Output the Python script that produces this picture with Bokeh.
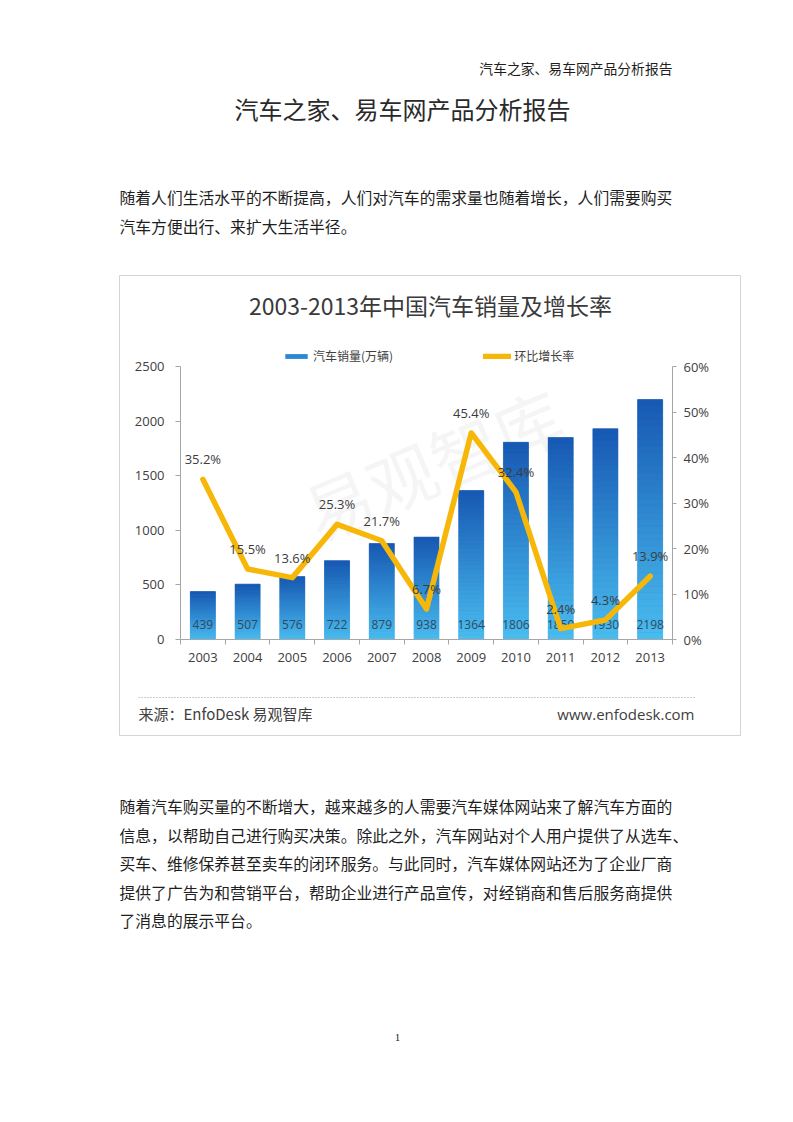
import numpy as np
from bokeh.plotting import figure
from bokeh.models import (Range1d, LinearAxis, FixedTicker, Label, Legend, LegendItem,
                          ColumnDataSource, Spacer, Arrow)
from bokeh.layouts import column, row
from bokeh.core.properties import value
from bokeh.embed import file_html
from bokeh.resources import INLINE

# ---------------- data ----------------
years = ["2003", "2004", "2005", "2006", "2007", "2008", "2009", "2010", "2011", "2012", "2013"]
sales = [439, 507, 576, 722, 879, 938, 1364, 1806, 1850, 1930, 2198]
growth = [35.2, 15.5, 13.6, 25.3, 21.7, 6.7, 45.4, 32.4, 2.4, 4.3, 13.9]
sales_ticks = [0, 500, 1000, 1500, 2000, 2500]
growth_ticks = [0, 10, 20, 30, 40, 50, 60]
growth_tick_labels = ["0%", "10%", "20%", "30%", "40%", "50%", "60%"]
legend_labels = ["汽车销量(万辆)", "环比增长率"]
chart_title = "2003-2013年中国汽车销量及增长率"
source_left = "来源：EnfoDesk 易观智库"
source_right = "www.enfodesk.com"
watermark = "易观智库"
header_text = "汽车之家、易车网产品分析报告"
doc_title = "汽车之家、易车网产品分析报告"
para1 = ["随着人们生活水平的不断提高，人们对汽车的需求量也随着增长，人们需要购买",
         "汽车方便出行、来扩大生活半径。"]
para2 = ["随着汽车购买量的不断增大，越来越多的人需要汽车媒体网站来了解汽车方面的",
         "信息，以帮助自己进行购买决策。除此之外，汽车网站对个人用户提供了从选车、",
         "买车、维修保养甚至卖车的闭环服务。与此同时，汽车媒体网站还为了企业厂商",
         "提供了广告为和营销平台，帮助企业进行产品宣传，对经销商和售后服务商提供",
         "了消息的展示平台。"]
page_number = "1"

CJK = "Noto Sans CJK SC"
NUM = "Open Sans"
TXT = "#1e1e1e"
PAGE_W = 785


def page_fig(h, y_top):
    return figure(width=PAGE_W, height=h, x_range=Range1d(0, PAGE_W),
                  y_range=Range1d(y_top + h, y_top),
                  output_backend="svg", toolbar_location=None, min_border=0,
                  x_axis_type=None, y_axis_type=None, outline_line_color=None,
                  background_fill_color="white", border_fill_color="white")


# ---------------- top of page ----------------
BOX_L, BOX_T, BOX_W, BOX_H = 119, 275, 622, 461
top = page_fig(BOX_T, 0)
top.text(x=[672], y=[67], text=[header_text], text_align="right", text_baseline="middle",
         text_font=value(CJK), text_font_size="13.8px", text_color=TXT)
top.text(x=[402], y=[108], text=[doc_title], text_align="center", text_baseline="middle",
         text_font=value(CJK), text_font_size="24px", text_color="#2a2a2a")
top.text(x=[119] * len(para1), y=[197 + 29 * i for i in range(len(para1))], text=para1,
         text_align="left", text_baseline="middle", text_font=value(CJK),
         text_font_size="15.8px", text_color=TXT)

# ---------------- chart ----------------
# the plot frame covers the whole chart box; the axes sit at fixed locations inside it
PLOT_L, PLOT_R, PLOT_T, PLOT_B = 180, 672, 366, 639
n = len(years)
ux = n / (PLOT_R - PLOT_L)
uy = sales_ticks[-1] / (PLOT_B - PLOT_T)
up = growth_ticks[-1] / (PLOT_B - PLOT_T)
x_lo = -0.5 - (PLOT_L - BOX_L) * ux
x_hi = n - 0.5 + (BOX_L + BOX_W - PLOT_R) * ux
y_lo = -(BOX_T + BOX_H - PLOT_B) * uy
y_hi = sales_ticks[-1] + (PLOT_T - BOX_T) * uy
p_lo = -(BOX_T + BOX_H - PLOT_B) * up
p_hi = growth_ticks[-1] + (PLOT_T - BOX_T) * up


def sx(px):
    return px - BOX_L


def sy(py):
    return BOX_T + BOX_H - py


p = figure(width=BOX_W, height=BOX_H, x_range=Range1d(x_lo, x_hi), y_range=Range1d(y_lo, y_hi),
           output_backend="svg", toolbar_location=None, min_border=0,
           outline_line_color="#d4d4d4", background_fill_color="white", border_fill_color="white")
p.extra_y_ranges = {"pct": Range1d(p_lo, p_hi)}
p.grid.visible = False

AX = "#a6a6a6"
yax = p.yaxis[0]
yax.fixed_location = -0.5
yax.bounds = (sales_ticks[0], sales_ticks[-1])
yax.ticker = FixedTicker(ticks=sales_ticks)
yax.axis_line_color = AX
yax.major_tick_line_color = AX
yax.major_tick_out = 5
yax.major_tick_in = 0
yax.minor_tick_line_color = None
yax.major_label_standoff = 11
yax.major_label_text_font = NUM
yax.major_label_text_font_size = "13px"
yax.major_label_text_color = "#404040"

xax = p.xaxis[0]
xs_idx = list(range(n))
xax.fixed_location = 0
xax.bounds = (-0.5, n - 0.5)
xax.ticker = FixedTicker(ticks=xs_idx, minor_ticks=[i - 0.5 for i in range(n + 1)])
xax.major_label_overrides = {i: years[i] for i in xs_idx}
xax.axis_line_color = AX
xax.major_tick_line_color = None
xax.major_tick_out = 0
xax.major_tick_in = 0
xax.minor_tick_line_color = AX
xax.minor_tick_out = 5
xax.minor_tick_in = 0
xax.major_label_standoff = 8
xax.major_label_text_font = NUM
xax.major_label_text_font_size = "13px"
xax.major_label_text_color = "#404040"

rax = LinearAxis(y_range_name="pct", fixed_location=n - 0.5, bounds=(growth_ticks[0], growth_ticks[-1]),
                 ticker=FixedTicker(ticks=growth_ticks),
                 major_label_overrides=dict(zip(growth_ticks, growth_tick_labels)),
                 axis_line_color=AX, major_tick_line_color=AX, major_tick_out=4, major_tick_in=0,
                 minor_tick_line_color=None, major_label_standoff=7,
                 major_label_text_font=NUM, major_label_text_font_size="13px",
                 major_label_text_color="#404040")
p.add_layout(rax, "right")

# watermark
p.add_layout(Label(x=sx(432), y=sy(462), x_units="screen", y_units="screen", text=watermark,
                   angle=0.4, text_align="center", text_baseline="middle", text_font=CJK,
                   text_font_size="68px", text_color="#9a9a9a", text_alpha=0.10, level="underlay"))

src = ColumnDataSource(dict(x=xs_idx, sales=sales, label=[str(v) for v in sales]))
bars = p.vbar(x="x", top="sales", bottom=0, width=0.56, source=src,
              fill_color="#2b86d3", line_color=None)

# vertical colour gradient inside each bar (light at the base, dark at the top)
N = 36
light = np.array([0x4a, 0xbd, 0xf0], dtype=float)
dark = np.array([0x17, 0x58, 0xb2], dtype=float)
gx, gb, gt, gc = [], [], [], []
for i, v in enumerate(sales):
    for k in range(N):
        c = light + (dark - light) * ((k + 0.5) / N)
        gx.append(i)
        gb.append(v * k / N)
        gt.append(v * (k + 1) / N)
        gc.append("#%02x%02x%02x" % tuple(int(round(a)) for a in c))
p.vbar(x=gx, bottom=gb, top=gt, width=0.56, fill_color=gc, line_color=gc, line_width=0.6)

p.text(x="x", y=0, text="label", source=src, text_align="center", text_baseline="middle",
       y_offset=-15, text_font=value(NUM), text_font_size="12px", text_color="#34495e")

lsrc = ColumnDataSource(dict(x=xs_idx, g=growth, label=["%.1f%%" % g for g in growth]))
line = p.line(x="x", y="g", source=lsrc, y_range_name="pct", line_color="#f7b708",
              line_width=5.5, line_join="round", line_cap="round")
p.text(x="x", y="g", text="label", source=lsrc, y_range_name="pct", text_align="center",
       text_baseline="middle", y_offset=-20, text_font=value(NUM), text_font_size="13px",
       text_color="#3c3c3c")

legend = Legend(items=[LegendItem(label=legend_labels[0], renderers=[bars]),
                       LegendItem(label=legend_labels[1], renderers=[line])],
                location=(sx(282), sy(364)), orientation="horizontal", glyph_width=28,
                glyph_height=6, label_height=14, label_standoff=3, spacing=90, padding=0,
                margin=0, border_line_alpha=0, background_fill_alpha=0, label_text_font=CJK,
                label_text_font_size="12px", label_text_color="#404040")
p.add_layout(legend)

p.add_layout(Label(x=sx(430), y=sy(304), x_units="screen", y_units="screen", text=chart_title,
                   text_align="center", text_baseline="middle", text_font=CJK,
                   text_font_size="23px", text_color="#3a3a3a"))
p.add_layout(Arrow(x_start=sx(138), y_start=sy(697), x_end=sx(694), y_end=sy(697),
                   start_units="screen", end_units="screen", start=None, end=None,
                   line_color="#9a9a9a", line_width=1, line_dash="1 2"))
p.add_layout(Label(x=sx(138), y=sy(713), x_units="screen", y_units="screen", text=source_left,
                   text_align="left", text_baseline="middle", text_font=CJK,
                   text_font_size="15px", text_color="#404040"))
p.add_layout(Label(x=sx(694), y=sy(713), x_units="screen", y_units="screen", text=source_right,
                   text_align="right", text_baseline="middle", text_font=NUM,
                   text_font_size="15px", text_color="#404040"))

chart_row = row(Spacer(width=BOX_L, height=BOX_H), p)

# ---------------- bottom of page ----------------
BOT_T = BOX_T + BOX_H
bottom = page_fig(1114 - BOT_T, BOT_T)
bottom.text(x=[119] * len(para2), y=[806 + 28.5 * i for i in range(len(para2))], text=para2,
            text_align="left", text_baseline="middle", text_font=value(CJK),
            text_font_size="15.8px", text_color=TXT)
bottom.text(x=[397], y=[1037], text=[page_number], text_align="center", text_baseline="middle",
            text_font=value("Liberation Serif"), text_font_size="11px", text_color=TXT)

layout = column(top, chart_row, bottom)
open("out.html", "w").write(file_html(layout, INLINE))
